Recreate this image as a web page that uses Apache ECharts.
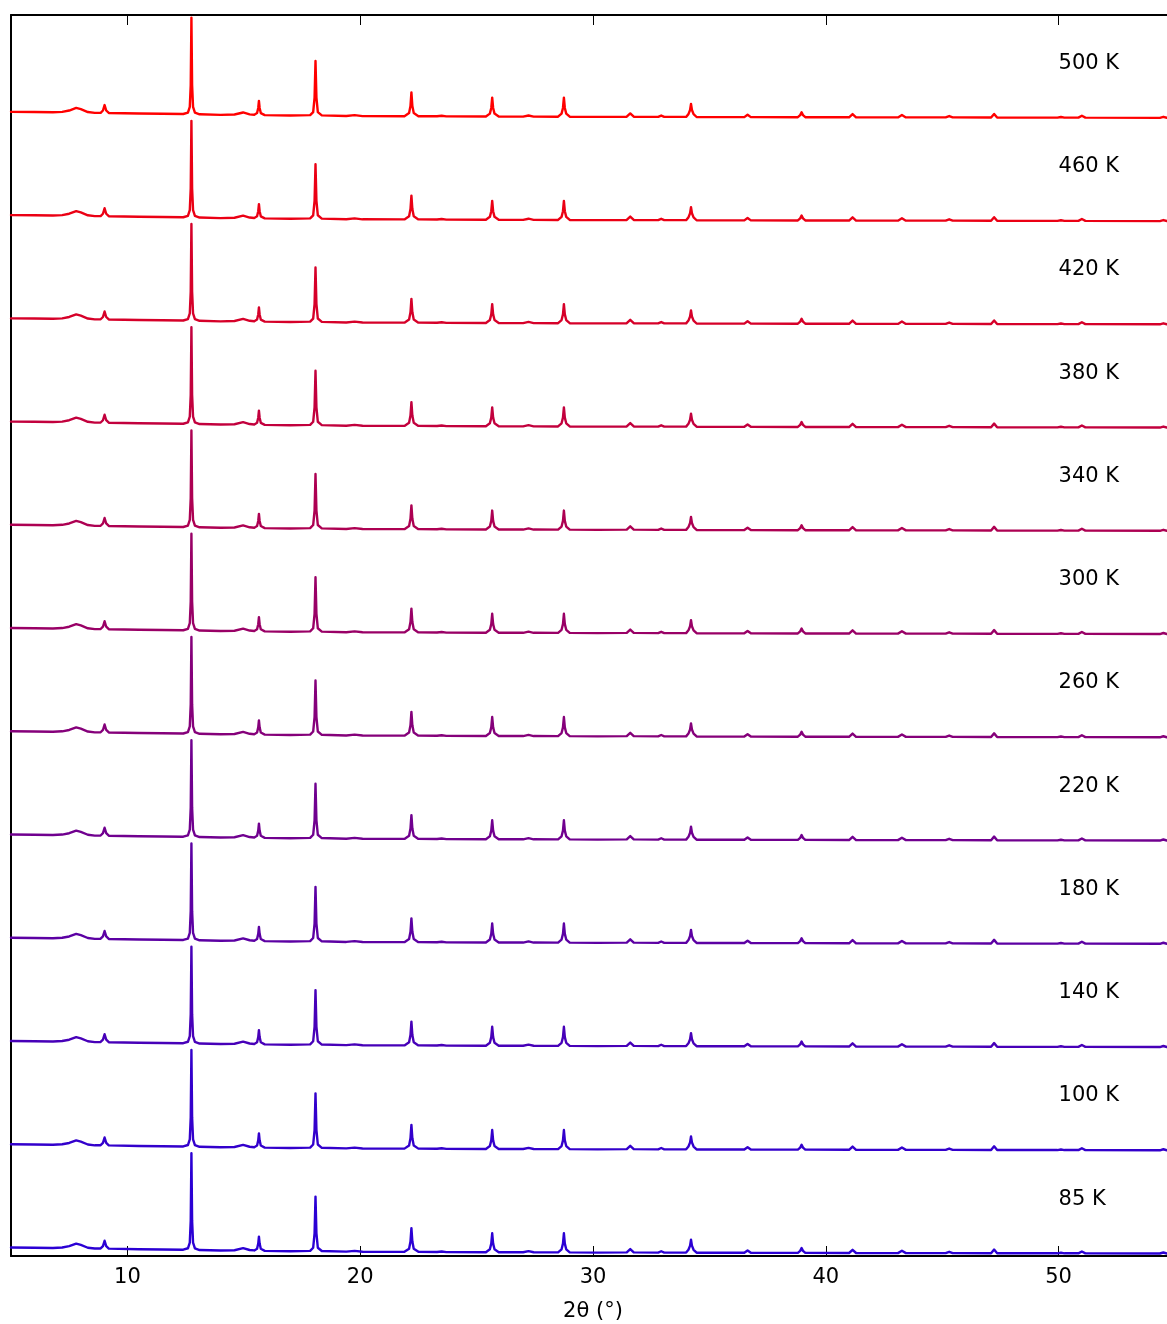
<!DOCTYPE html>
<html>
<head>
<meta charset="utf-8">
<title>2θ scans, 85–500 K</title>
<script src="https://cdn.jsdelivr.net/npm/echarts@6/dist/echarts.min.js"></script>
<style>
  html, body { margin: 0; padding: 0; background: #ffffff; }
  #chart { width: 1167px; height: 1324px; }
</style>
</head>
<body>
<div id="chart"></div>
<script>
// Temperatures of the stacked scans, bottom to top
const temperatures = [85, 100, 140, 180, 220, 260, 300, 340, 380, 420, 460, 500];

// Vertical offset between consecutive scans (normalised intensity units)
const stackStep = 1;

// Height of the temperature label above each scan's zero line
const labelLift = 0.53;

// 2θ position of the temperature labels
const labelAngle = 50;

// 2θ range of the axes
const angleMin = 5;
const angleMax = 55;

// Normalised diffraction profile: [2θ (deg), intensity]
const profile = [
  [5.0, 0.062], [6.0, 0.060], [6.8, 0.058], [7.2, 0.062], [7.5, 0.075], [7.8, 0.100],
  [8.0, 0.088], [8.3, 0.060], [8.6, 0.052],
  [8.85, 0.053], [8.95, 0.075], [9.02, 0.128], [9.09, 0.075], [9.2, 0.051],
  [10.5, 0.046], [11.5, 0.043], [12.4, 0.041],
  [12.6, 0.055], [12.68, 0.11], [12.72, 0.32], [12.75, 0.975], [12.78, 0.32], [12.82, 0.11],
  [12.9, 0.055], [13.1, 0.038],
  [14.0, 0.033], [14.6, 0.036], [14.97, 0.056], [15.25, 0.038], [15.45, 0.034],
  [15.57, 0.05], [15.62, 0.10], [15.65, 0.168], [15.68, 0.10], [15.73, 0.05], [15.9, 0.030],
  [17.0, 0.026], [17.85, 0.030], [17.98, 0.060], [18.04, 0.20], [18.08, 0.555],
  [18.12, 0.20], [18.18, 0.060], [18.35, 0.028],
  [19.4, 0.022], [19.76, 0.030], [20.1, 0.021],
  [21.9, 0.020], [22.1, 0.050], [22.16, 0.12], [22.2, 0.25], [22.24, 0.12], [22.3, 0.050], [22.5, 0.020],
  [23.3, 0.019], [23.5, 0.024], [23.7, 0.018],
  [25.4, 0.017], [25.57, 0.045], [25.63, 0.10], [25.67, 0.20], [25.71, 0.10], [25.77, 0.045], [25.95, 0.017],
  [27.0, 0.016], [27.23, 0.027], [27.45, 0.016],
  [28.5, 0.015], [28.65, 0.045], [28.71, 0.10], [28.75, 0.20], [28.79, 0.10], [28.85, 0.045], [29.0, 0.015],
  [30.2, 0.013], [31.45, 0.015], [31.6, 0.047], [31.75, 0.015],
  [32.8, 0.013], [32.93, 0.026], [33.06, 0.013],
  [34.0, 0.013], [34.1, 0.040], [34.17, 0.080], [34.21, 0.138], [34.25, 0.080], [34.32, 0.040], [34.45, 0.012],
  [36.5, 0.011], [36.64, 0.034], [36.78, 0.011],
  [38.8, 0.010], [38.9, 0.030], [38.96, 0.057], [39.02, 0.030], [39.12, 0.010],
  [41.0, 0.009], [41.15, 0.040], [41.3, 0.009],
  [43.1, 0.008], [43.27, 0.031], [43.44, 0.008],
  [45.15, 0.008], [45.3, 0.021], [45.45, 0.008],
  [47.1, 0.007], [47.23, 0.042], [47.36, 0.007],
  [49.95, 0.006], [50.1, 0.012], [50.25, 0.006],
  [50.85, 0.006], [51.0, 0.024], [51.15, 0.006],
  [54.35, 0.004], [54.5, 0.014], [54.65, 0.004], [55.0, 0.004]
];

// Tick positions along 2θ
const xTicks = [10, 20, 30, 40, 50];

const FONT = '"DejaVu Sans", "Liberation Sans", sans-serif';

// Blue (cold) to red (hot) colour for each scan
function scanColor(t) {
  const f = t / 500;
  return 'rgb(' + Math.round(255 * f) + ',0,' + Math.round(255 * (1 - f)) + ')';
}

const scanSeries = temperatures.map((t, i) => ({
  name: t + ' K',
  type: 'line',
  data: profile.map(([x, y]) => [x, y + i * stackStep]),
  showSymbol: false,
  symbol: 'none',
  smooth: false,
  clip: true,
  silent: true,
  lineStyle: { color: scanColor(t), width: 2.4, join: 'round', cap: 'round' },
  z: 2
}));

const labelSeries = {
  type: 'scatter',
  data: temperatures.map((t, i) => [labelAngle, i * stackStep + labelLift, t]),
  symbolSize: 0,
  silent: true,
  itemStyle: { opacity: 1 },
  label: {
    show: true,
    position: [0, 0],
    align: 'left',
    verticalAlign: 'middle',
    formatter: p => p.value[2] + ' K',
    color: '#000000',
    opacity: 1,
    textBorderWidth: 0,
    fontFamily: FONT,
    fontSize: 21
  },
  z: 3
};

const chart = echarts.init(document.getElementById('chart'), null, { renderer: 'canvas' });

const axisTickStyle = {
  show: true, inside: true, length: 10,
  customValues: xTicks,
  lineStyle: { color: '#000000', width: 1 }
};

chart.setOption({
  animation: false,
  backgroundColor: '#ffffff',
  grid: {
    left: 11,
    top: 15,
    right: -8,
    bottom: 68,
    containLabel: false,
    outerBoundsMode: 'none',
    show: false
  },
  xAxis: [
    {
      type: 'value',
      position: 'bottom',
      min: angleMin,
      max: angleMax,
      name: '2θ (°)',
      nameLocation: 'middle',
      nameGap: 45,
      nameTextStyle: { color: '#000000', fontFamily: FONT, fontSize: 21 },
      axisLine: { show: true, onZero: false, lineStyle: { color: '#000000', width: 2 } },
      axisTick: axisTickStyle,
      axisLabel: {
        show: true, margin: 11,
        customValues: xTicks,
        color: '#000000', fontFamily: FONT, fontSize: 21
      },
      splitLine: { show: false }
    },
    {
      type: 'value',
      position: 'top',
      min: angleMin,
      max: angleMax,
      axisLine: { show: true, onZero: false, lineStyle: { color: '#000000', width: 2 } },
      axisTick: axisTickStyle,
      axisLabel: { show: false },
      splitLine: { show: false }
    }
  ],
  yAxis: {
    type: 'value',
    min: -0.02,
    max: 12,
    axisLine: { show: true, onZero: false, lineStyle: { color: '#000000', width: 2 } },
    axisTick: { show: false },
    axisLabel: { show: false },
    splitLine: { show: false }
  },
  series: scanSeries.concat([labelSeries])
});
</script>
</body>
</html>
